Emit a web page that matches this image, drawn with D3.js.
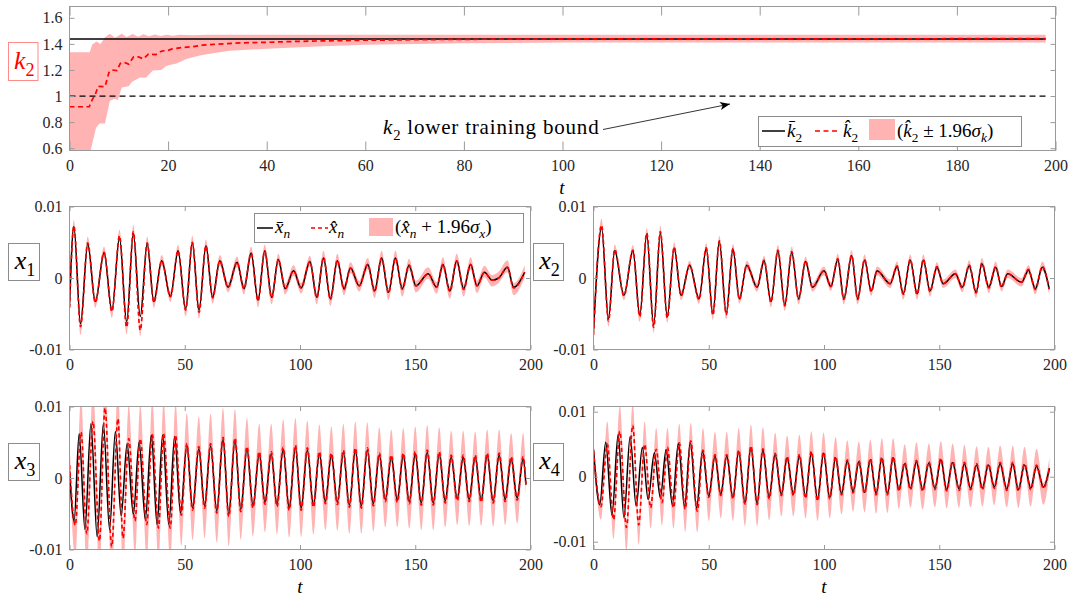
<!DOCTYPE html>
<html>
<head>
<meta charset="utf-8">
<script src="https://cdn.jsdelivr.net/npm/d3@7/dist/d3.min.js"></script>
<style>
body { margin: 0; background: #fff; }
svg { display: block; }
text { font-family: "Liberation Serif", "DejaVu Serif", serif; }
</style>
</head>
<body>
<svg width="1073" height="598"></svg>
<script>
/*
Data.
Top panel: k2 estimate. Lower panels: x1..x4, values in units of 1e-3,
sampled at the turning points of each curve.
*/

const kTicksX = [0, 20, 40, 60, 80, 100, 120, 140, 160, 180, 200];
const kTicksY = [0.6, 0.8, 1, 1.2, 1.4, 1.6];
const xTicksX = [0, 50, 100, 150, 200];
const xTicksY = [-10, 0, 10];

// k2 true value and lower training bound
const kBarT = [0, 198];
const kBar = [1.438, 1.438];
const kLowT = [0, 198];
const kLow = [1, 1];

// k2 estimate (red dashed)
const kHatT = [0, 4, 4.6, 5.3, 5.8, 7.2, 8, 8.6, 9.6, 10.3, 11, 12, 13, 14, 15, 16, 17.5, 18.7, 20, 20.7, 22.7, 25, 27, 29.8, 32, 35, 40, 45, 50, 60, 70, 80, 100, 198];
const kHat = [0.918, 0.918, 0.97, 1.02, 1.075, 1.072, 1.18, 1.2, 1.195, 1.25, 1.26, 1.245, 1.3, 1.3, 1.285, 1.322, 1.318, 1.345, 1.35, 1.36, 1.372, 1.378, 1.39, 1.398, 1.402, 1.408, 1.412, 1.418, 1.422, 1.428, 1.432, 1.435, 1.438, 1.44];

// k2 confidence band, upper and lower edges
const kHiT = [0, 4.1, 4.6, 5.5, 6.3, 7.2, 8.2, 9.2, 10.6, 11.6, 12.8, 13.9, 15, 16.1, 17.3, 18.5, 19.7, 21, 22.3, 25, 28, 35, 198];
const kHi = [1.335, 1.335, 1.395, 1.418, 1.40, 1.45, 1.477, 1.448, 1.478, 1.452, 1.475, 1.455, 1.474, 1.458, 1.472, 1.46, 1.47, 1.462, 1.47, 1.466, 1.47, 1.47, 1.47];
const kLoT = [0, 3.8, 4.4, 5.4, 6.1, 7.2, 8.2, 9.2, 9.8, 10.6, 12, 12.7, 14.3, 15.5, 16.9, 18.6, 19.7, 21.7, 23.7, 26.4, 29.1, 32.5, 40, 50, 60, 80, 100, 198];
const kLo = [0.45, 0.45, 0.6, 0.758, 0.79, 0.79, 0.964, 0.98, 0.97, 1.066, 1.075, 1.11, 1.143, 1.14, 1.195, 1.2, 1.233, 1.25, 1.284, 1.31, 1.328, 1.348, 1.362, 1.38, 1.394, 1.405, 1.41, 1.41];

// x1
const x1T = [0, 1.9, 4.8, 7.9, 11.2, 15, 18.4, 21.7, 24.8, 27.7, 30.7, 33.7, 36.6, 40, 43.8, 47.1, 50.4, 53.3, 56.2, 59.2, 62.1, 65.2, 68.8, 72.7, 75.7, 78.8, 81.8, 84.7, 87.7, 90.6, 93.6, 97.2, 100.5, 104.3, 107.3, 110.2, 113.2, 116.2, 119.1, 121.9, 125.7, 129.4, 132.4, 135.4, 138.4, 141.4, 144.4, 147.3, 150.3, 155.6, 159.3, 162, 165, 168, 171, 174, 176.8, 180, 183.3, 186.2, 190, 192.7, 197.5];
const x1B = [-4.0, 7.2, -6.4, 4.8, -3.3, 3.5, -4.5, 5.6, -6.1, 6.2, -5.4, 4.8, -3.3, 2.4, -2.6, 3.8, -4.3, 4.9, -4.5, 4.5, -2.7, 2.4, -1.3, 2.2, -1.5, 3.5, -3.1, 3.8, -2.7, 2.6, -1.5, 1.0, -1.4, 2.3, -2.7, 2.8, -2.9, 2.4, -1.5, 1.4, -1.1, 1.9, -1.8, 2.8, -2.0, 2.8, -1.5, 1.8, -1.1, 0.6, -1.3, 1.9, -1.8, 2.4, -1.5, 1.9, -1.1, 0.8, -0.3, 0.0, 1.5, -1.3, 0.8];
const x1R = [-4.2, 7.3, -6.8, 4.9, -3.4, 3.6, -4.7, 5.9, -6.9, 6.5, -7.3, 4.9, -3.4, 2.4, -2.6, 3.8, -4.5, 5.0, -4.8, 4.5, -2.8, 2.4, -1.3, 2.2, -1.5, 3.5, -3.2, 3.8, -2.8, 2.6, -1.5, 1.0, -1.4, 2.3, -2.8, 2.9, -3.0, 2.5, -1.6, 1.4, -1.1, 1.9, -1.9, 2.8, -2.1, 2.8, -1.6, 1.8, -1.1, 0.6, -1.3, 1.9, -1.9, 2.4, -1.6, 1.9, -1.1, 0.8, -0.3, 0.0, 1.5, -1.4, 0.8];
const x1W = [0.8, 0.8, 1.2, 0.9, 0.8, 0.8, 0.9, 0.9, 1.0, 0.9, 0.9, 0.9, 0.8, 0.8, 0.8, 0.8, 0.9, 0.9, 0.9, 0.9, 0.8, 0.8, 0.7, 0.8, 0.8, 0.9, 0.9, 0.9, 0.9, 0.8, 0.8, 0.8, 0.8, 0.8, 0.9, 0.9, 0.9, 0.9, 0.8, 0.8, 0.8, 0.9, 0.9, 1.0, 1.0, 1.0, 1.0, 0.9, 0.9, 0.9, 0.9, 1.0, 1.0, 1.0, 1.0, 1.0, 1.0, 0.9, 0.9, 0.9, 1.0, 1.0, 1.0];

// x2
const x2T = [0, 3.5, 6.5, 9.2, 13.2, 17.1, 20.1, 23.1, 26.1, 29, 32, 35, 38, 41.7, 45.8, 48.9, 51.8, 54.6, 57.6, 60.5, 63.3, 66.5, 71, 74, 77, 80, 83, 86, 89, 92, 95, 100, 103, 106, 108.6, 112, 114.6, 117.6, 120.5, 123, 128.7, 131.7, 134.4, 137.4, 140.4, 143.1, 146, 149, 151.7, 157, 160, 163, 166, 168.5, 171.5, 174.5, 177, 179.7, 185.7, 188.7, 191.7, 194.7, 197.7];
const x2B = [-7.5, 7.0, -5.7, 3.8, -2.4, 3.8, -5.2, 6.1, -6.6, 6.3, -5.4, 4.2, -2.4, 1.8, -2.9, 4.1, -5.0, 5.1, -4.9, 4.0, -2.9, 1.8, -1.3, 2.4, -3.3, 3.8, -3.8, 3.6, -2.9, 2.3, -1.3, 1.0, -1.2, 2.6, -2.9, 3.1, -2.9, 2.5, -1.8, 1.0, -0.8, 1.6, -2.2, 2.5, -2.2, 2.5, -1.8, 1.5, -0.8, 0.6, -1.3, 1.7, -2.0, 2.0, -1.3, 1.5, -1.2, 0.6, -0.6, 1.1, -1.5, 1.5, -1.5];
const x2R = [-8.0, 7.4, -6.0, 4.0, -2.5, 3.9, -5.4, 6.3, -6.9, 6.5, -5.6, 4.3, -2.5, 1.8, -3.0, 4.2, -5.2, 5.2, -5.1, 4.1, -3.0, 1.8, -1.3, 2.5, -3.4, 3.9, -3.9, 3.7, -3.0, 2.4, -1.3, 1.0, -1.2, 2.7, -3.0, 3.2, -3.0, 2.6, -1.9, 1.0, -0.8, 1.7, -2.3, 2.6, -2.3, 2.6, -1.9, 1.6, -0.8, 0.6, -1.4, 1.8, -2.1, 2.1, -1.4, 1.6, -1.3, 0.6, -0.6, 1.2, -1.6, 1.6, -1.6];
const x2W = [1.0, 0.9, 0.8, 0.7, 0.6, 0.7, 0.7, 0.7, 0.8, 0.8, 0.7, 0.7, 0.6, 0.6, 0.6, 0.7, 0.7, 0.7, 0.7, 0.7, 0.6, 0.6, 0.6, 0.6, 0.7, 0.7, 0.7, 0.7, 0.7, 0.6, 0.6, 0.6, 0.6, 0.7, 0.7, 0.7, 0.7, 0.7, 0.6, 0.6, 0.6, 0.6, 0.7, 0.7, 0.7, 0.7, 0.7, 0.6, 0.6, 0.6, 0.6, 0.7, 0.7, 0.7, 0.7, 0.7, 0.6, 0.6, 0.6, 0.6, 0.7, 0.7, 0.7];

// x3
const x3T = [0, 2, 4.2, 6.7, 9.3, 12, 14.7, 17.4, 19.9, 22.4, 25, 27.7, 30.2, 32.9, 35.5, 38, 40.4, 43.1, 45.6, 48.2, 50.9, 53.4, 56.1, 58.6, 61.2, 63.9, 66.6, 69.1, 71.8, 74.3, 77, 79.6, 82.3, 84.8, 87.5, 90, 92.7, 95.3, 98, 100.5, 103.2, 105.8, 108.4, 111, 113.6, 116.2, 118.8, 121.4, 124, 126.6, 129.2, 131.8, 134.4, 137, 139.6, 142.2, 144.8, 147.4, 150, 152.6, 155.2, 157.8, 160.4, 163, 165.6, 168.2, 170.8, 173.4, 176, 178.6, 181.2, 183.8, 186.4, 189, 191.6, 194.2, 196.8, 198];
const x3B = [1.0, -6.0, 6.2, -7.2, 7.6, -8.2, 7.6, -7.2, 6.5, -5.3, 4.8, -5.1, 5.0, -5.8, 6.0, -6.5, 6.0, -6.5, 5.8, -4.9, 4.6, -4.2, 4.1, -3.9, 4.5, -4.6, 5.4, -5.1, 5.3, -4.4, 4.1, -3.9, 3.4, -3.4, 3.4, -3.7, 4.0, -4.2, 4.3, -4.2, 3.9, -3.8, 3.4, -3.3, 3.2, -3.4, 3.6, -3.8, 3.9, -3.9, 3.9, -3.6, 3.2, -3.0, 2.9, -3.1, 3.2, -3.3, 3.4, -3.5, 3.6, -3.5, 3.4, -3.2, 2.9, -2.9, 2.9, -3.0, 2.9, -3.1, 3.2, -3.2, 3.2, -3.0, 2.7, -2.8, 2.7, -0.9];
const x3RT = [0, 2.5, 5, 7.5, 10.2, 13, 15.4, 18.3, 21, 23.2, 25.7, 28.4, 30.7, 33.5, 35.9, 38.6, 40.8, 43.7, 46, 48.5, 50.9, 53.4, 56.1, 58.6, 61.2, 63.9, 66.6, 69.1, 71.8, 74.3, 77, 79.6, 82.3, 84.8, 87.5, 90, 92.7, 95.3, 98, 100.5, 103.2, 105.8, 108.4, 111, 113.6, 116.2, 118.8, 121.4, 124, 126.6, 129.2, 131.8, 134.4, 137, 139.6, 142.2, 144.8, 147.4, 150, 152.6, 155.2, 157.8, 160.4, 163, 165.6, 168.2, 170.8, 173.4, 176, 178.6, 181.2, 183.8, 186.4, 189, 191.6, 194.2, 196.8, 198];
const x3R = [1.8, -6.6, 6.4, -7.8, 7.9, -8.8, 9.8, -9.6, 8.3, -8.4, 5.5, -6.0, 5.5, -6.5, 6.1, -7.0, 6.2, -7.0, 6.0, -5.2, 4.8, -4.5, 4.4, -4.2, 4.8, -4.9, 5.7, -5.4, 5.6, -4.7, 4.4, -4.2, 3.7, -3.7, 3.7, -4.0, 4.3, -4.5, 4.6, -4.5, 4.2, -4.1, 3.7, -3.6, 3.5, -3.7, 3.9, -4.1, 4.2, -4.2, 4.2, -3.9, 3.5, -3.3, 3.2, -3.4, 3.5, -3.6, 3.7, -3.8, 3.9, -3.8, 3.7, -3.5, 3.2, -3.2, 3.2, -3.3, 3.2, -3.4, 3.5, -3.5, 3.5, -3.3, 3.0, -3.1, 3.0, -0.9];
const x3W = [3.0, 4.5, 5.0, 5.0, 5.0, 5.0, 5.0, 5.0, 5.0, 5.0, 4.8, 4.8, 4.8, 4.8, 4.8, 4.8, 4.5, 4.5, 4.5, 4.3, 4.3, 4.2, 4.2, 4.2, 4.2, 4.1, 4.1, 4.1, 4.0, 4.0, 4.0, 4.0, 3.9, 3.9, 3.9, 3.9, 3.9, 3.8, 3.8, 3.8, 3.8, 3.8, 3.8, 3.7, 3.7, 3.7, 3.7, 3.7, 3.7, 3.6, 3.6, 3.6, 3.6, 3.6, 3.6, 3.5, 3.5, 3.5, 3.5, 3.5, 3.5, 3.5, 3.4, 3.4, 3.4, 3.4, 3.4, 3.4, 3.3, 3.3, 3.3, 3.3, 3.3, 3.3, 3.3, 3.3, 3.3, 1.5];

// x4
const x4T = [0, 2.7, 5.3, 8, 10.7, 13.2, 15.9, 18.5, 21.2, 23.7, 26.4, 29, 31.5, 34.2, 36.8, 39.5, 42, 44.7, 47.3, 50, 52.7, 55.2, 57.8, 60.5, 63, 65.7, 68.3, 71, 73.5, 76.2, 78.8, 81.5, 84, 86.7, 89.3, 92, 94.5, 97.2, 99.8, 102.5, 105, 107.6, 110.1, 112.6, 115.1, 117.6, 120.1, 122.6, 125.1, 127.5, 130, 132.5, 135, 137.5, 140.1, 142.8, 145.5, 148.1, 150.7, 153.2, 155.8, 158.6, 160.9, 163.6, 166.2, 168.7, 171.3, 173.9, 176.4, 179.3, 181.9, 184.3, 187, 189.7, 192.2, 195.2, 197.8];
const x4B = [4.2, -4.3, 5.3, -5.9, 6.5, -6.3, 6.2, -4.5, 4.5, -3.5, 3.7, -3.2, 4.2, -4.3, 5.1, -4.6, 5.3, -4.8, 3.9, -3.0, 3.2, -2.7, 3.2, -3.2, 3.9, -4.0, 4.5, -4.1, 4.1, -3.2, 3.4, -2.7, 2.9, -2.7, 3.2, -3.1, 3.7, -3.5, 3.6, -3.2, 2.9, -2.6, 2.4, -2.3, 2.3, -2.4, 2.6, -2.6, 2.8, -2.6, 2.9, -2.0, 2.0, -1.8, 2.3, -2.0, 2.1, -1.8, 2.6, -2.0, 2.2, -1.9, 2.0, -1.8, 1.8, -1.8, 1.8, -1.6, 2.0, -1.9, 2.0, -2.0, 1.8, -1.8, 1.6, -1.6, 1.3];
const x4RT = [0, 3.2, 6, 8.7, 11.4, 14.3, 17, 19.6, 22.2, 24.8, 27.2, 29.7, 32.1, 34.7, 37.2, 39.8, 42.2, 45, 47.5, 50, 52.7, 55.2, 57.8, 60.5, 63, 65.7, 68.3, 71, 73.5, 76.2, 78.8, 81.5, 84, 86.7, 89.3, 92, 94.5, 97.2, 99.8, 102.5, 105, 107.6, 110.1, 112.6, 115.1, 117.6, 120.1, 122.6, 125.1, 127.5, 130, 132.5, 135, 137.5, 140.1, 142.8, 145.5, 148.1, 150.7, 153.2, 155.8, 158.6, 160.9, 163.6, 166.2, 168.7, 171.3, 173.9, 176.4, 179.3, 181.9, 184.3, 187, 189.7, 192.2, 195.2, 197.8];
const x4R = [4.0, -4.6, 5.0, -6.6, 7.0, -7.8, 7.9, -7.4, 5.0, -4.8, 4.2, -4.0, 4.5, -4.8, 5.2, -5.0, 5.5, -5.3, 4.1, -3.2, 3.4, -2.9, 3.4, -3.4, 4.1, -4.2, 4.7, -4.3, 4.3, -3.4, 3.6, -2.9, 3.1, -2.9, 3.4, -3.3, 3.9, -3.7, 3.8, -3.4, 3.1, -2.8, 2.6, -2.5, 2.5, -2.6, 2.8, -2.8, 3.0, -2.8, 3.1, -2.2, 2.2, -2.0, 2.5, -2.2, 2.3, -2.0, 2.8, -2.2, 2.4, -2.1, 2.2, -2.0, 2.0, -2.0, 2.0, -1.8, 2.2, -2.1, 2.2, -2.2, 2.0, -2.0, 1.8, -1.8, 1.4];
const x4W = [1.8, 2.0, 3.5, 3.0, 4.0, 3.6, 3.5, 3.1, 3.5, 3.2, 3.3, 3.5, 3.0, 3.2, 3.0, 3.5, 2.8, 3.3, 3.4, 3.6, 3.5, 3.5, 3.5, 3.4, 3.4, 3.4, 3.3, 3.3, 3.3, 3.3, 3.2, 3.2, 3.2, 3.2, 3.1, 3.1, 3.1, 3.1, 3.0, 3.0, 3.0, 3.0, 3.0, 2.9, 2.9, 2.9, 2.9, 2.9, 2.9, 2.8, 2.8, 2.8, 2.8, 2.8, 2.8, 2.8, 2.8, 2.7, 2.7, 2.7, 2.7, 2.7, 2.7, 2.7, 2.7, 2.6, 2.6, 2.6, 2.6, 2.6, 2.6, 2.6, 2.6, 2.6, 2.5, 2.5, 1.5];

/*
Styles
*/

const serif = '"Liberation Serif", "DejaVu Serif", serif';
const axisColor = '#9a9a9a';
const tickTextColor = '#262626';
const bandColor = '#ffb3b3';
const redColor = '#ff0000';

var svg = d3.select('svg');
var defs = svg.append('defs');

defs.append('marker')
	.attr('id', 'arrow')
	.attr('viewBox', '0 0 10 8')
	.attr('refX', 10).attr('refY', 4)
	.attr('markerWidth', 10).attr('markerHeight', 8)
	.attr('markerUnits', 'userSpaceOnUse')
	.attr('orient', 'auto')
	.append('path')
		.attr('d', 'M0,0 L10,4 L0,8 L2.5,4 z')
		.attr('fill', '#000');

function zip(T, V){
	return T.map(function(t, i){ return {t: t, v: V[i]}; });
}

// math-ish label: parts are {t, i (italic), sub}
function mathText(g, x, y, parts, size, color, anchor){
	var txt = g.append('text')
		.attr('x', x).attr('y', y)
		.attr('font-size', size)
		.attr('fill', color || '#000')
		.attr('text-anchor', anchor || 'start');
	var shift = 0;
	parts.forEach(function(p){
		var s = txt.append('tspan').text(p.t);
		if(p.i) s.attr('font-style', 'italic');
		var want = p.sub ? size * 0.28 : 0;
		s.attr('dy', want - shift);
		shift = want;
		if(p.sub) s.attr('font-size', size * 0.7);
	});
	return txt;
}

function makePanel(o){
	var x = d3.scaleLinear().domain([0, 200]).range([o.left, o.right]);
	var y = d3.scaleLinear().domain(o.yDom).range([o.bottom, o.top]);
	var g = svg.append('g');
	var cid = 'clip-' + o.name;
	defs.append('clipPath').attr('id', cid)
		.append('rect')
			.attr('x', o.left).attr('y', o.top)
			.attr('width', o.right - o.left).attr('height', o.bottom - o.top);
	var plot = g.append('g').attr('clip-path', 'url(#' + cid + ')');
	return {x: x, y: y, g: g, plot: plot, o: o};
}

function drawAxes(p){
	var x = p.x, y = p.y, g = p.g, o = p.o;
	function style(sel){
		sel.select('.domain').remove();
		sel.selectAll('line').attr('stroke', axisColor);
		sel.selectAll('text')
			.attr('fill', tickTextColor)
			.attr('font-family', serif)
			.attr('font-size', 16);
	}
	g.append('g').attr('transform', 'translate(0,' + o.bottom + ')')
		.call(d3.axisBottom(x).tickValues(o.xTicks).tickSize(-o.tickX).tickPadding(9))
		.call(style);
	g.append('g').attr('transform', 'translate(0,' + o.top + ')')
		.call(d3.axisTop(x).tickValues(o.xTicks).tickSize(-o.tickX).tickFormat(''))
		.call(style);
	g.append('g').attr('transform', 'translate(' + o.left + ',0)')
		.call(d3.axisLeft(y).tickValues(o.yTicks).tickSize(-o.tickY).tickPadding(7).tickFormat(o.yFmt))
		.call(style);
	g.append('g').attr('transform', 'translate(' + o.right + ',0)')
		.call(d3.axisRight(y).tickValues(o.yTicks).tickSize(-o.tickY).tickFormat(''))
		.call(style);
	g.append('rect')
		.attr('x', o.left).attr('y', o.top)
		.attr('width', o.right - o.left).attr('height', o.bottom - o.top)
		.attr('fill', 'none').attr('stroke', axisColor).attr('stroke-width', 1);
}

function labelBox(x, y, w, h, parts, color, border){
	svg.append('rect')
		.attr('x', x).attr('y', y).attr('width', w).attr('height', h)
		.attr('fill', '#fff').attr('stroke', border).attr('stroke-width', 1);
	mathText(svg, x + w / 2 + 1, y + h / 2 + 7, parts, 26, color, 'middle');
}

/*
Top panel: k2
*/

var kPanel = makePanel({
	name: 'k', left: 69.5, right: 1055.5, top: 6.5, bottom: 150.5,
	yDom: [0.5824, 1.6867], xTicks: kTicksX, yTicks: kTicksY,
	tickX: 9, tickY: 5,
	yFmt: function(d){ return String(Math.round(d * 10) / 10); }
});

var kLine = d3.line()
	.x(function(d){ return kPanel.x(d.t); })
	.y(function(d){ return kPanel.y(d.v); });

var kBand = zip(kHiT, kHi).concat(zip(kLoT, kLo).reverse());
kPanel.plot.append('path')
	.attr('d', kLine(kBand) + 'Z')
	.attr('fill', bandColor).attr('stroke', 'none');

kPanel.plot.append('path')
	.attr('d', kLine(zip(kLowT, kLow)))
	.attr('fill', 'none').attr('stroke', '#000')
	.attr('stroke-width', 1.3).attr('stroke-dasharray', '6,4');

kPanel.plot.append('path')
	.attr('d', kLine(zip(kBarT, kBar)))
	.attr('fill', 'none').attr('stroke', '#000').attr('stroke-width', 1.5);

kPanel.plot.append('path')
	.attr('d', kLine(zip(kHatT, kHat)))
	.attr('fill', 'none').attr('stroke', redColor)
	.attr('stroke-width', 1.7).attr('stroke-dasharray', '5,3.5');

drawAxes(kPanel);

// annotation
mathText(svg, 383, 134, [{t: 'k', i: true}, {t: '2', sub: true}, {t: ' lower training bound'}], 21, '#000')
	.attr('letter-spacing', 0.8);
svg.append('line')
	.attr('x1', 603).attr('y1', 129.5)
	.attr('x2', 730).attr('y2', 104)
	.attr('stroke', '#000').attr('stroke-width', 0.8)
	.attr('marker-end', 'url(#arrow)');

// top legend
(function(){
	var x0 = 758.5, x1 = 1021.5, y0 = 116.5, y1 = 146.5, cy = 131;
	svg.append('rect').attr('x', x0).attr('y', y0).attr('width', x1 - x0).attr('height', y1 - y0)
		.attr('fill', '#fff').attr('stroke', '#8c8c8c').attr('stroke-width', 1);
	svg.append('line').attr('x1', 762).attr('x2', 785).attr('y1', cy).attr('y2', cy)
		.attr('stroke', '#000').attr('stroke-width', 1.5);
	mathText(svg, 787, cy + 6, [{t: 'k\u0304', i: true}, {t: '2', sub: true}], 19);
	svg.append('line').attr('x1', 815).attr('x2', 840).attr('y1', cy).attr('y2', cy)
		.attr('stroke', redColor).attr('stroke-width', 1.7).attr('stroke-dasharray', '5,3.5');
	mathText(svg, 843, cy + 6, [{t: 'k\u0302', i: true}, {t: '2', sub: true}], 19);
	svg.append('rect').attr('x', 869).attr('y', 119).attr('width', 26).attr('height', 21).attr('fill', bandColor);
	mathText(svg, 897, cy + 6, [{t: '('}, {t: 'k\u0302', i: true}, {t: '2', sub: true}, {t: ' \u00b1 1.96'}, {t: '\u03c3', i: true}, {t: 'k', i: true, sub: true}, {t: ')'}], 19);
})();

mathText(svg, 562, 194, [{t: 't', i: true}], 19, '#000', 'middle');
labelBox(8.5, 42.5, 29.5, 38, [{t: 'k', i: true}, {t: '2', sub: true}], redColor, '#ff8a8a');

/*
Lower panels: x1..x4
*/

function xFmt(d){ return d === 0 ? '0' : String(d / 1000); }

function oscPanel(cfg){
	var p = makePanel({
		name: cfg.name, left: cfg.left, right: cfg.right, top: cfg.top, bottom: cfg.bottom,
		yDom: cfg.yDom, xTicks: xTicksX, yTicks: xTicksY,
		tickX: 4.5, tickY: 4.5, yFmt: xFmt
	});
	var line = d3.line()
		.x(function(d){ return p.x(d.t); })
		.y(function(d){ return p.y(d.v); })
		.curve(d3.curveMonotoneX);
	// band: wide side at each turning point, narrow side s0
	var bandPts = cfg.RT.map(function(t, i){
		var r = cfg.R[i], up = r >= 0;
		return {t: t, hi: r + (up ? cfg.W[i] : cfg.s0), lo: r - (up ? cfg.s0 : cfg.W[i])};
	});
	var area = d3.area()
		.x(function(d){ return p.x(d.t); })
		.y0(function(d){ return p.y(d.lo); })
		.y1(function(d){ return p.y(d.hi); })
		.curve(d3.curveMonotoneX);
	p.plot.append('path').attr('d', area(bandPts)).attr('fill', bandColor);
	p.plot.append('path').attr('d', line(zip(cfg.T, cfg.B)))
		.attr('fill', 'none').attr('stroke', '#000').attr('stroke-width', 1.5);
	p.plot.append('path').attr('d', line(zip(cfg.RT, cfg.R)))
		.attr('fill', 'none').attr('stroke', redColor)
		.attr('stroke-width', 1.7).attr('stroke-dasharray', '4,3');
	drawAxes(p);
	return p;
}

oscPanel({name: 'x1', left: 69.5, right: 530.5, top: 206.5, bottom: 349.5, yDom: [-10, 10],
	T: x1T, B: x1B, RT: x1T, R: x1R, W: x1W, s0: 0.7});
oscPanel({name: 'x2', left: 593.5, right: 1054.5, top: 206.5, bottom: 349.5, yDom: [-10, 10],
	T: x2T, B: x2B, RT: x2T, R: x2R, W: x2W, s0: 0.6});
oscPanel({name: 'x3', left: 69.5, right: 530.5, top: 406.5, bottom: 549.5, yDom: [-10, 10],
	T: x3T, B: x3B, RT: x3RT, R: x3R, W: x3W, s0: 1.0});
oscPanel({name: 'x4', left: 593.5, right: 1054.5, top: 406.5, bottom: 549.5, yDom: [-11.2, 10.8],
	T: x4T, B: x4B, RT: x4RT, R: x4R, W: x4W, s0: 0.8});

labelBox(8.5, 243.5, 31, 37, [{t: 'x', i: true}, {t: '1', sub: true}], '#000', '#8c8c8c');
labelBox(533.5, 243.5, 30, 37, [{t: 'x', i: true}, {t: '2', sub: true}], '#000', '#8c8c8c');
labelBox(8.5, 443.5, 31, 37, [{t: 'x', i: true}, {t: '3', sub: true}], '#000', '#8c8c8c');
labelBox(533.5, 443.5, 30, 37, [{t: 'x', i: true}, {t: '4', sub: true}], '#000', '#8c8c8c');

mathText(svg, 300, 593, [{t: 't', i: true}], 19, '#000', 'middle');
mathText(svg, 824, 593, [{t: 't', i: true}], 19, '#000', 'middle');

// x1 legend
(function(){
	var x0 = 254.5, x1 = 523.5, y0 = 213.5, y1 = 242.5, cy = 228;
	svg.append('rect').attr('x', x0).attr('y', y0).attr('width', x1 - x0).attr('height', y1 - y0)
		.attr('fill', '#fff').attr('stroke', '#8c8c8c').attr('stroke-width', 1);
	svg.append('line').attr('x1', 257).attr('x2', 273).attr('y1', cy).attr('y2', cy)
		.attr('stroke', '#000').attr('stroke-width', 1.5);
	mathText(svg, 275, cy + 5, [{t: 'x\u0304', i: true}, {t: 'n', i: true, sub: true}], 19);
	svg.append('line').attr('x1', 311).attr('x2', 328).attr('y1', cy).attr('y2', cy)
		.attr('stroke', redColor).attr('stroke-width', 1.7).attr('stroke-dasharray', '4,3');
	mathText(svg, 329, cy + 5, [{t: 'x\u0302', i: true}, {t: 'n', i: true, sub: true}], 19);
	svg.append('rect').attr('x', 369).attr('y', 218).attr('width', 24).attr('height', 18).attr('fill', bandColor);
	mathText(svg, 395, cy + 5, [{t: '('}, {t: 'x\u0302', i: true}, {t: 'n', i: true, sub: true}, {t: ' + 1.96'}, {t: '\u03c3', i: true}, {t: 'x', i: true, sub: true}, {t: ')'}], 19);
})();
</script>
</body>
</html>
